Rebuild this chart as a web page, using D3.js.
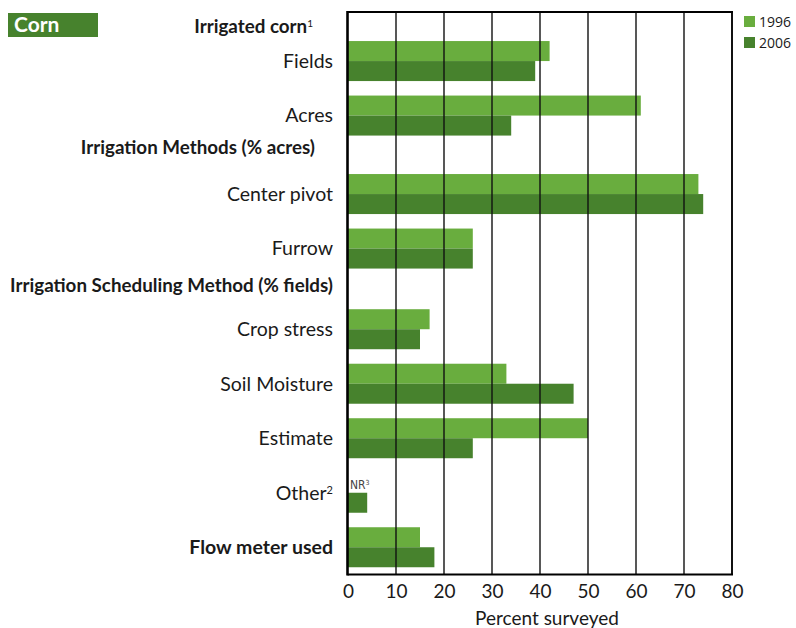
<!DOCTYPE html>
<html>
<head>
<meta charset="utf-8">
<script src="https://cdn.jsdelivr.net/npm/d3@7"></script>
<style>
  html, body { margin: 0; padding: 0; background: #fff; }
  svg { display: block; }
  text { font-family: Lato, "Noto Sans", sans-serif; fill: #1a1a1a; }
</style>
</head>
<body>
<svg id="chart" width="796" height="628"></svg>
<script>
// ---- data ----
const series = ["1996", "2006"];
const categories = ["Fields", "Acres", "Center pivot", "Furrow", "Crop stress",
                    "Soil Moisture", "Estimate", "Other", "Flow meter used"];
const values1996 = [42, 61, 73, 26, 17, 33, 50, null, 15];
const values2006 = [39, 34, 74, 26, 15, 47, 26, 4, 18];
const headings = ["Irrigated corn", "Irrigation Methods (% acres)",
                  "Irrigation Scheduling Method (% fields)"];
// row order: heading index (h) or category index (c)
const rowOrder = ["h0", "c0", "c1", "h1", "c2", "c3", "h2", "c4", "c5", "c6", "c7", "c8"];
const categoryNotes = { "Other": "2" };
const headingNotes = { "Irrigated corn": "1" };
const missingLabel = "NR";
const missingNote = "3";
const xTicks = [0, 10, 20, 30, 40, 50, 60, 70, 80];
const xTitle = "Percent surveyed";
const panelTitle = "Corn";

// ---- layout ----
const colors = { "1996": "#69ad3e", "2006": "#47822d" };
const plot = { left: 347.5, right: 732, top: 12, bottom: 574.5 };
const headingWeight = [0.40, 0.44, 0.48];     // heading rows are shorter than bar rows
const headingRight = [313, 315, 333];         // right edge of each heading text
const headingShift = [4, -7, -3];             // vertical nudge of each heading
const labelRight = 333;

const svg = d3.select("#chart");

// cumulative row layout in "row units"
let acc = 0;
const rows = rowOrder.map(key => {
  const kind = key[0] === "h" ? "heading" : "bar";
  const idx = +key.slice(1);
  const w = kind === "heading" ? headingWeight[idx] : 1;
  const r = { kind, idx, start: acc, weight: w };
  acc += w;
  return r;
});
const totalUnits = acc;

const x = d3.scaleLinear().domain([0, 80]).range([348, plot.right]);
const y = d3.scaleLinear().domain([0, totalUnits]).range([plot.top, plot.bottom]);
const inner = d3.scaleBand().domain(series).range([0.133, 0.867]).padding(0);

const barRows = rows.filter(r => r.kind === "bar");
const headRows = rows.filter(r => r.kind === "heading");

// ---- bars ----
const barData = [];
barRows.forEach(r => {
  series.forEach(s => {
    const v = (s === "1996" ? values1996 : values2006)[r.idx];
    barData.push({ row: r, s, v });
  });
});

svg.append("g").selectAll("rect")
  .data(barData.filter(d => d.v != null))
  .join("rect")
  .attr("x", x(0))
  .attr("y", d => y(d.row.start + inner(d.s)))
  .attr("width", d => x(d.v) - x(0))
  .attr("height", d => y(d.row.start + inner(d.s) + inner.bandwidth()) - y(d.row.start + inner(d.s)))
  .attr("fill", d => colors[d.s]);

// "not reported" marker
barData.filter(d => d.v == null).forEach(d => {
  const t = svg.append("text")
    .attr("x", x(0) + 2)
    .attr("y", y(d.row.start + inner(d.s) + inner.bandwidth()) - 4)
    .style("font-family", "'Liberation Sans Narrow', 'DejaVu Sans Condensed', sans-serif")
    .style("font-size", "12px")
    .style("fill", "#444")
    .text(missingLabel);
  t.append("tspan").attr("baseline-shift", "super").style("font-size", "7px").text(missingNote);
});

// ---- grid lines (drawn over bars) ----
const grid = svg.append("g");
grid.selectAll("line.v")
  .data(xTicks.filter(t => t > 0))
  .join("line")
  .attr("x1", d => x(d)).attr("x2", d => x(d))
  .attr("y1", plot.top).attr("y2", plot.bottom)
  .attr("stroke", "#111").attr("stroke-width", d => d === 80 ? 2 : 1.4);
grid.append("line")
  .attr("x1", plot.left).attr("x2", plot.left)
  .attr("y1", plot.top - 1).attr("y2", plot.bottom + 1)
  .attr("stroke", "#000").attr("stroke-width", 2.6);
grid.append("line")
  .attr("x1", plot.left).attr("x2", plot.right + 1)
  .attr("y1", plot.top).attr("y2", plot.top)
  .attr("stroke", "#000").attr("stroke-width", 2);
grid.append("line")
  .attr("x1", plot.left).attr("x2", plot.right + 1)
  .attr("y1", plot.bottom).attr("y2", plot.bottom)
  .attr("stroke", "#000").attr("stroke-width", 2);

// ---- x axis labels ----
const xAxis = d3.axisBottom(x).tickValues(xTicks).tickSize(0).tickPadding(10).tickFormat(d3.format("d"));
const gx = svg.append("g").attr("transform", `translate(0,${plot.bottom})`).call(xAxis);
gx.select(".domain").remove();
gx.selectAll("text")
  .style("font-family", "Lato, sans-serif")
  .style("font-size", "19px")
  .style("fill", "#1a1a1a");

svg.append("text")
  .attr("x", 547).attr("y", 625)
  .attr("text-anchor", "middle")
  .style("font-size", "19px")
  .text(xTitle);

// ---- category labels ----
barRows.forEach(r => {
  const name = categories[r.idx];
  const t = svg.append("text")
    .attr("x", labelRight)
    .attr("y", y(r.start + 0.5))
    .attr("dy", "0.35em")
    .attr("text-anchor", "end")
    .style("font-size", "19.5px")
    .style("font-weight", name === "Flow meter used" ? 700 : 400)
    .text(name);
  if (categoryNotes[name]) {
    t.append("tspan").attr("baseline-shift", "super").style("font-size", "11px").text(categoryNotes[name]);
  }
});

// ---- group headings ----
headRows.forEach(r => {
  const name = headings[r.idx];
  const t = svg.append("text")
    .attr("x", headingRight[r.idx])
    .attr("y", y(r.start + r.weight / 2) + headingShift[r.idx])
    .attr("dy", "0.35em")
    .attr("text-anchor", "end")
    .style("font-size", "18.8px")
    .style("font-weight", 700)
    .text(name);
  if (headingNotes[name]) {
    t.append("tspan").attr("baseline-shift", "super").style("font-size", "10px")
      .style("font-weight", 400).text(headingNotes[name]);
  }
});

// ---- panel title ----
svg.append("rect").attr("x", 8).attr("y", 13).attr("width", 90).attr("height", 24).attr("fill", colors["2006"]);
svg.append("text").attr("x", 14).attr("y", 31.5)
  .style("font-size", "21px").style("font-weight", 700).style("fill", "#fff")
  .text(panelTitle);

// ---- legend ----
const legend = svg.append("g").attr("transform", "translate(744,16)");
series.forEach((s, i) => {
  const g = legend.append("g").attr("transform", `translate(0,${i * 21})`);
  g.append("rect").attr("width", 11).attr("height", 11).attr("fill", colors[s]);
  g.append("text").attr("x", 15).attr("y", 5.5).attr("dy", "0.36em")
    .style("font-family", "'Open Sans', sans-serif").style("font-size", "14px")
    .text(s);
});
</script>
</body>
</html>
